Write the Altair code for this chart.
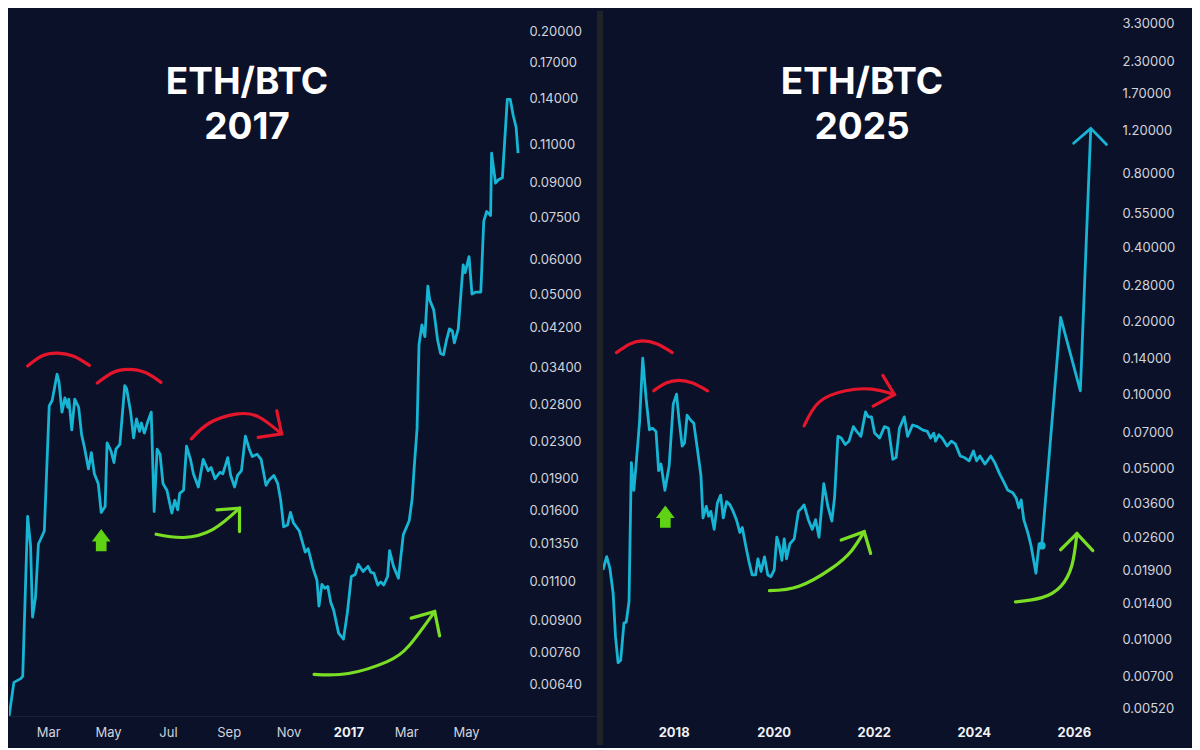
import altair as alt
import pandas as pd

BG = "#0b1128"
CYAN = "#17b4d4"
RED = "#e5162b"
GREEN = "#7ade24"
BLOCK_GREEN = "#5fd313"
LABEL = "#d1d4dc"

# ---------------- left panel (2016-2017) ----------------
L_TITLE = ["ETH/BTC", "2017"]
L_DATES = [
    "2016-01-21", "2016-01-26", "2016-02-02", "2016-02-04", "2016-02-09", "2016-02-12", "2016-02-14",
    "2016-02-17", "2016-02-20", "2016-02-26", "2016-03-02", "2016-03-05", "2016-03-10", "2016-03-12",
    "2016-03-15", "2016-03-18", "2016-03-21", "2016-03-22", "2016-03-25", "2016-03-28", "2016-04-01",
    "2016-04-04", "2016-04-07", "2016-04-11", "2016-04-14", "2016-04-17", "2016-04-21", "2016-04-24",
    "2016-04-28", "2016-04-30", "2016-05-04", "2016-05-07", "2016-05-09", "2016-05-13", "2016-05-18",
    "2016-05-20", "2016-05-24", "2016-05-27", "2016-05-30", "2016-06-02", "2016-06-04", "2016-06-07",
    "2016-06-10", "2016-06-14", "2016-06-17", "2016-06-20", "2016-06-23", "2016-06-26", "2016-06-30",
    "2016-07-05", "2016-07-08", "2016-07-11", "2016-07-13", "2016-07-17", "2016-07-20", "2016-07-24",
    "2016-07-27", "2016-08-01", "2016-08-06", "2016-08-11", "2016-08-14", "2016-08-18", "2016-08-23",
    "2016-08-26", "2016-08-31", "2016-09-03", "2016-09-07", "2016-09-10", "2016-09-14", "2016-09-18",
    "2016-09-22", "2016-09-25", "2016-09-30", "2016-10-04", "2016-10-09", "2016-10-12", "2016-10-17",
    "2016-10-21", "2016-10-24", "2016-10-27", "2016-10-31", "2016-11-03", "2016-11-06", "2016-11-12",
    "2016-11-18", "2016-11-21", "2016-11-26", "2016-11-30", "2016-12-02", "2016-12-05", "2016-12-08",
    "2016-12-11", "2016-12-14", "2016-12-17", "2016-12-22", "2016-12-27", "2016-12-31", "2017-01-04",
    "2017-01-08", "2017-01-11", "2017-01-16", "2017-01-21", "2017-01-24", "2017-01-27", "2017-01-31",
    "2017-02-03", "2017-02-06", "2017-02-10", "2017-02-12", "2017-02-16", "2017-02-21", "2017-02-26",
    "2017-03-04", "2017-03-07", "2017-03-09", "2017-03-12", "2017-03-14", "2017-03-17", "2017-03-20",
    "2017-03-23", "2017-03-25", "2017-03-29", "2017-04-02", "2017-04-05", "2017-04-08", "2017-04-11",
    "2017-04-14", "2017-04-17", "2017-04-19", "2017-04-23", "2017-04-28", "2017-04-30", "2017-05-04",
    "2017-05-07", "2017-05-11", "2017-05-16", "2017-05-19", "2017-05-22", "2017-05-26", "2017-05-27",
    "2017-05-31", "2017-06-03", "2017-06-07", "2017-06-12", "2017-06-15", "2017-06-18", "2017-06-21",
    "2017-06-23",
]
L_VALUES = [
    0.00541, 0.00648, 0.00661, 0.0067, 0.01554, 0.01331, 0.00914,
    0.01013, 0.01343, 0.01438, 0.0278, 0.0286, 0.03284, 0.0315,
    0.0269, 0.029, 0.0276, 0.0288, 0.0245, 0.0288, 0.0276,
    0.0239, 0.0223, 0.01995, 0.02174, 0.01944, 0.01846, 0.01586,
    0.01637, 0.02289, 0.02192, 0.02063, 0.02213, 0.0227, 0.03094,
    0.0304, 0.0269, 0.02348, 0.02596, 0.02431, 0.0254, 0.02408,
    0.0254, 0.0269, 0.01594, 0.02213, 0.02155, 0.01846, 0.01783,
    0.01581, 0.01691, 0.01608, 0.01754, 0.01783, 0.0225, 0.02098,
    0.01944, 0.01814, 0.02098, 0.01976, 0.0201, 0.01894, 0.01959,
    0.01944, 0.02117, 0.01927, 0.01814, 0.01927, 0.01976, 0.0237,
    0.02213, 0.0213, 0.02155, 0.02098, 0.0183, 0.01878, 0.01927,
    0.01846, 0.01691, 0.01471, 0.01485, 0.01586, 0.01501, 0.01438,
    0.01287, 0.0131, 0.01181, 0.01109, 0.00968, 0.01086, 0.01064,
    0.01074, 0.00988, 0.00948, 0.0084, 0.00814, 0.00937, 0.01132,
    0.01144, 0.01207, 0.01162, 0.01194, 0.01156, 0.01152, 0.01082,
    0.011, 0.01082, 0.01132, 0.01297, 0.01194, 0.01121, 0.01411,
    0.01518, 0.01702, 0.01995, 0.02463, 0.03835, 0.04261, 0.04004,
    0.05225, 0.04853, 0.0461, 0.03927, 0.03662, 0.03638, 0.03927,
    0.0417, 0.04128, 0.03876, 0.0417, 0.05844, 0.05606, 0.061,
    0.0501, 0.05064, 0.05064, 0.07344, 0.0774, 0.07577, 0.1052,
    0.0899, 0.09145, 0.0924, 0.1397, 0.1397, 0.1285, 0.1206,
    0.1052,
]
L_YTICKS = [0.2, 0.17, 0.14, 0.11, 0.09, 0.075, 0.06, 0.05, 0.042, 0.034, 0.028,
            0.023, 0.019, 0.016, 0.0135, 0.011, 0.009, 0.0076, 0.0064]
L_XTICKS = [(2016, 3), (2016, 5), (2016, 7), (2016, 9), (2016, 11), (2017, 1), (2017, 3), (2017, 5)]
L_XDOMAIN = [(2016, 1, 21), (2017, 6, 27)]
L_YDOMAIN = [0.0054, 0.2225]

# left annotations
L_RED_ARCS = [
    (["2016-02-09", "2016-02-24", "2016-03-11", "2016-03-27", "2016-04-12"], [0.0343, 0.0362, 0.0367, 0.0361, 0.0344]),
    (["2016-04-20", "2016-05-06", "2016-05-22", "2016-06-08", "2016-06-24"], [0.03135, 0.03314, 0.0337, 0.03314, 0.03147]),
    (["2016-07-25", "2016-08-12", "2016-09-08", "2016-10-01", "2016-10-24"], [0.02336, 0.02537, 0.02661, 0.02627, 0.02408]),
]
L_RED_HEADS = [
    (["2016-10-20", "2016-10-25", "2016-10-01"], [0.0271, 0.024, 0.02356]),
]
L_GREEN_ARCS = [
    (["2016-06-19", "2016-07-17", "2016-08-16", "2016-09-12"], [0.01414, 0.0139, 0.01451, 0.01622]),
    (["2016-11-27", "2017-01-01", "2017-02-09", "2017-03-04", "2017-03-30"], [0.00676, 0.00679, 0.00722, 0.00787, 0.00941]),
]
L_GREEN_HEADS = [
    (["2016-08-20", "2016-09-12", "2016-09-12"], [0.01608, 0.01622, 0.01434]),
    (["2017-03-06", "2017-03-30", "2017-04-04"], [0.00909, 0.00941, 0.00828]),
]
L_BLOCK = (["2016-04-24"], [0.0137])

# ---------------- right panel (2016-2026) ----------------
R_TITLE = ["ETH/BTC", "2025"]
R_DATES = [
    "2016-08-03", "2016-08-30", "2016-09-22", "2016-10-16", "2016-11-02", "2016-11-21", "2016-12-10",
    "2017-01-03", "2017-01-20", "2017-02-09", "2017-02-26", "2017-03-16", "2017-04-02", "2017-04-27",
    "2017-05-20", "2017-06-14", "2017-07-08", "2017-07-31", "2017-08-25", "2017-09-13", "2017-09-30",
    "2017-10-29", "2017-11-29", "2017-12-29", "2018-01-22", "2018-02-08", "2018-03-04", "2018-03-21",
    "2018-04-09", "2018-05-04", "2018-05-28", "2018-06-25", "2018-07-19", "2018-08-03", "2018-08-27",
    "2018-09-13", "2018-09-29", "2018-10-24", "2018-11-16", "2018-12-10", "2018-12-29", "2019-01-22",
    "2019-02-16", "2019-03-11", "2019-04-04", "2019-04-29", "2019-05-17", "2019-06-11", "2019-07-05",
    "2019-07-28", "2019-08-22", "2019-09-08", "2019-10-01", "2019-10-26", "2019-11-19", "2019-12-12",
    "2020-01-05", "2020-01-24", "2020-02-11", "2020-03-01", "2020-03-18", "2020-04-04", "2020-04-28",
    "2020-05-30", "2020-06-30", "2020-07-24", "2020-08-10", "2020-09-10", "2020-10-09", "2020-11-02",
    "2020-11-27", "2021-01-01", "2021-01-31", "2021-03-01", "2021-03-21", "2021-04-14", "2021-05-08",
    "2021-06-06", "2021-07-04", "2021-08-05", "2021-08-29", "2021-09-29", "2021-11-02", "2021-11-21",
    "2021-12-15", "2022-01-07", "2022-02-12", "2022-03-20", "2022-04-18", "2022-05-20", "2022-06-13",
    "2022-07-07", "2022-08-12", "2022-09-05", "2022-10-11", "2022-11-16", "2022-12-22", "2023-01-27",
    "2023-02-20", "2023-03-15", "2023-03-28", "2023-04-21", "2023-05-15", "2023-06-20", "2023-07-21",
    "2023-08-19", "2023-09-24", "2023-10-25", "2023-11-28", "2023-12-29", "2024-01-22", "2024-02-15",
    "2024-03-22", "2024-05-04", "2024-06-02", "2024-07-08", "2024-08-13", "2024-09-06", "2024-10-12",
    "2024-11-06", "2024-11-25", "2024-12-12", "2024-12-31", "2025-01-29", "2025-02-22", "2025-03-30",
    "2025-04-10", "2025-04-22", "2025-05-11", "2025-09-26", "2026-02-17", "2026-05-04",
]
R_VALUES = [
    0.0192, 0.02175, 0.01953, 0.0154, 0.01028, 0.00801, 0.00819,
    0.01162, 0.01174, 0.01427, 0.0527, 0.0406, 0.052, 0.0775,
    0.141, 0.096, 0.0718, 0.0728, 0.0707, 0.0489, 0.052,
    0.0406, 0.0512, 0.0917, 0.1005, 0.0799, 0.0616, 0.0634,
    0.0824, 0.0787, 0.0763, 0.0588, 0.0467, 0.0313, 0.0349,
    0.0318, 0.0333, 0.0281, 0.036, 0.0388, 0.0313, 0.0365,
    0.0354, 0.0333, 0.0308, 0.0273, 0.0286, 0.0241, 0.0207,
    0.0183, 0.0183, 0.0213, 0.0189, 0.0217, 0.0183, 0.018,
    0.0192, 0.0261, 0.0241, 0.021, 0.0257, 0.0213, 0.0245,
    0.0257, 0.0333, 0.0344, 0.0354, 0.0308, 0.0281, 0.0308,
    0.0261, 0.0432, 0.0349, 0.0304, 0.0382, 0.0675, 0.0664,
    0.0625, 0.0645, 0.074, 0.0707, 0.0675, 0.085, 0.0811,
    0.0811, 0.0696, 0.0664, 0.074, 0.0728, 0.0544, 0.0553,
    0.0728, 0.0811, 0.0675, 0.0751, 0.074, 0.0718, 0.0707,
    0.0664, 0.0696, 0.0645, 0.0685, 0.0664, 0.0616, 0.0645,
    0.0629, 0.0561, 0.0553, 0.0536, 0.0588, 0.0536, 0.0561,
    0.052, 0.0561, 0.0527, 0.0474, 0.0432, 0.0406, 0.0397,
    0.0377, 0.0344, 0.0371, 0.0308, 0.0273, 0.0241, 0.0186,
    0.0213, 0.0245, 0.0241, 0.207, 0.1037, 1.228,
]
R_YTICKS = [3.3, 2.3, 1.7, 1.2, 0.8, 0.55, 0.4, 0.28, 0.2, 0.14, 0.1, 0.07, 0.05,
            0.036, 0.026, 0.019, 0.014, 0.01, 0.007, 0.0052]
R_XTICKS = [2018, 2020, 2022, 2024, 2026]
R_XDOMAIN = [(2016, 8, 3), (2026, 10, 28)]
R_YDOMAIN = [0.0048, 3.71]

R_DOT = (["2025-05-11"], [0.0241])
R_CYAN_HEAD = (["2025-12-30", "2026-05-04", "2026-08-27"], [1.067, 1.228, 1.056])
R_RED_ARCS = [
    (["2016-11-09", "2017-02-14", "2017-05-20", "2017-09-03", "2017-12-22"], [0.1486, 0.161, 0.166, 0.161, 0.1486]),
    (["2017-08-08", "2017-11-06", "2018-02-08", "2018-05-20", "2018-09-05"], [0.1037, 0.1115, 0.1144, 0.1115, 0.1037]),
    (["2020-08-10", "2020-11-28", "2021-06-09", "2021-12-18", "2022-06-01"], [0.0745, 0.0932, 0.1037, 0.1053, 0.1]),
]
R_RED_HEADS = [
    (["2022-03-08", "2022-06-01", "2021-12-27"], [0.1198, 0.1, 0.0898]),
]
R_GREEN_ARCS = [
    (["2019-12-01", "2020-07-04", "2021-03-01", "2021-07-23", "2021-10-23"], [0.01577, 0.01644, 0.0195, 0.023, 0.0275]),
    (["2024-10-31", "2025-05-12", "2025-09-27", "2025-12-18", "2026-01-23"], [0.0142, 0.01478, 0.01644, 0.0201, 0.027]),
]
R_GREEN_HEADS = [
    (["2021-05-08", "2021-10-23", "2021-12-09"], [0.0254, 0.0275, 0.0224]),
    (["2025-09-26", "2026-01-23", "2026-05-19"], [0.0232, 0.027, 0.023]),
]
R_BLOCK = (["2017-11-01"], [0.0317])

# ---------------- layout ----------------
W1, W2, H = 513, 512, 706
EXT1, EXT2, XEXT = 75, 77, 28
DIV_W = 6
TITLE_SIZE, TITLE_LH, TITLE_Y = 37, 45, 72
UP_ARROW = "M0,-1L0.84,0.12L0.48,0.12L0.48,1L-0.48,1L-0.48,0.12L-0.84,0.12Z"


def seg_df(segs):
    rows = []
    for k, (ds, vs) in enumerate(segs):
        for j, (d, v) in enumerate(zip(ds, vs)):
            rows.append({"date": d, "value": v, "seg": k, "i": j})
    return pd.DataFrame(rows)


def dt(y, m, d):
    return alt.DateTime(year=y, month=m, date=d, utc=True)


def panel(dates, values, xdomain, ydomain, xticks, yticks, label_expr, weight, lcolor,
          width, ext, title, title_x, red_arcs, red_heads, green_arcs, green_heads, block,
          extra_layers):
    x = alt.X("date:T", title=None,
              scale=alt.Scale(type="utc", domain=[dt(*xdomain[0]), dt(*xdomain[1])], nice=False),
              axis=alt.Axis(values=xticks, labelExpr=label_expr, labelFontWeight=weight,
                            labelColor=lcolor, labelPadding=9, minExtent=XEXT, maxExtent=XEXT,
                            labelFlush=False, labelOverlap=False))
    y = alt.Y("value:Q", title=None,
              scale=alt.Scale(type="log", domain=ydomain, nice=False, zero=False),
              axis=alt.Axis(orient="right", values=yticks, format=".5f", labelPadding=7,
                            minExtent=ext, maxExtent=ext, labelOverlap=False, labelFlush=False))
    main = alt.Chart(pd.DataFrame({"date": dates, "value": values})).mark_line(
        color=CYAN, strokeWidth=2.8, clip=True, strokeJoin="round").encode(x=x, y=y)

    def arcs(segs, color):
        return alt.Chart(seg_df(segs)).mark_line(
            color=color, strokeWidth=3.2, interpolate="natural", strokeCap="round").encode(
            x=x, y=y, detail="seg:N", order="i:Q")

    def heads(segs, color):
        return alt.Chart(seg_df(segs)).mark_line(
            color=color, strokeWidth=3.2, strokeCap="round", strokeJoin="miter").encode(
            x=x, y=y, detail="seg:N", order="i:Q")

    blk = alt.Chart(pd.DataFrame({"date": block[0], "value": block[1]})).mark_point(
        shape=UP_ARROW, filled=True, size=495, color=BLOCK_GREEN, opacity=1, strokeWidth=0).encode(x=x, y=y)

    ttl = alt.Chart(pd.DataFrame({"t": ["\n".join(title)]})).mark_text(
        font="Inter", fontSize=TITLE_SIZE, fontWeight="bold", color="#ffffff", align="center",
        baseline="middle", lineBreak="\n", lineHeight=TITLE_LH).encode(
        text="t:N", x=alt.value(title_x), y=alt.value(TITLE_Y))

    layers = [main, arcs(red_arcs, RED), heads(red_heads, RED), arcs(green_arcs, GREEN),
              heads(green_heads, GREEN), blk, ttl]
    layers += [f(x, y) for f in extra_layers]
    return alt.layer(*layers).properties(width=width, height=H)


def left_extras():
    def divider(x, y):
        return alt.Chart(pd.DataFrame({"a": [0]})).mark_rule(
            color="#1f2227", strokeWidth=DIV_W).encode(
            x=alt.value(W1 + EXT1 + DIV_W / 2), y=alt.value(0), y2=alt.value(H + XEXT))

    def baseline(x, y):
        return alt.Chart(pd.DataFrame({"a": [0]})).mark_rule(
            color="#182036", strokeWidth=1).encode(
            x=alt.value(0), x2=alt.value(W1 + EXT1), y=alt.value(H - 0.5))
    return [divider, baseline]


def right_extras():
    def dot(x, y):
        return alt.Chart(pd.DataFrame({"date": R_DOT[0], "value": R_DOT[1]})).mark_point(
            shape="circle", filled=True, size=60, color=CYAN, opacity=1).encode(x=x, y=y)

    def cyan_head(x, y):
        return alt.Chart(seg_df([R_CYAN_HEAD])).mark_line(
            color=CYAN, strokeWidth=2.8, strokeCap="round").encode(x=x, y=y, detail="seg:N", order="i:Q")
    return [dot, cyan_head]


left = panel(
    L_DATES, L_VALUES, L_XDOMAIN, L_YDOMAIN,
    [dt(yy, mm, 1) for yy, mm in L_XTICKS], L_YTICKS,
    "utcmonth(datum.value) == 0 ? utcFormat(datum.value, '%Y') : utcFormat(datum.value, '%b')",
    {"condition": {"test": "utcmonth(datum.value) == 0", "value": "bold"}, "value": "normal"},
    {"condition": {"test": "utcmonth(datum.value) == 0", "value": "#f0f2f5"}, "value": LABEL},
    W1, EXT1, L_TITLE, 238, L_RED_ARCS, L_RED_HEADS, L_GREEN_ARCS, L_GREEN_HEADS, L_BLOCK,
    left_extras())

right = panel(
    R_DATES, R_VALUES, R_XDOMAIN, R_YDOMAIN,
    [dt(yy, 1, 1) for yy in R_XTICKS], R_YTICKS,
    "utcFormat(datum.value, '%Y')", "bold", "#eef0f4",
    W2, EXT2, R_TITLE, 259, R_RED_ARCS, R_RED_HEADS, R_GREEN_ARCS, R_GREEN_HEADS, R_BLOCK,
    right_extras())

chart = alt.hconcat(left, right, spacing=0).properties(
    padding={"left": 0, "top": 0, "right": 0, "bottom": 0}
).configure(background=BG).configure_view(strokeWidth=0).configure_axis(
    grid=False, domain=False, ticks=False, tickSize=0, labelFont="Inter", labelFontSize=13, labelColor=LABEL
)

chart.save("out.html", embed_options={"renderer": "svg", "actions": False})
